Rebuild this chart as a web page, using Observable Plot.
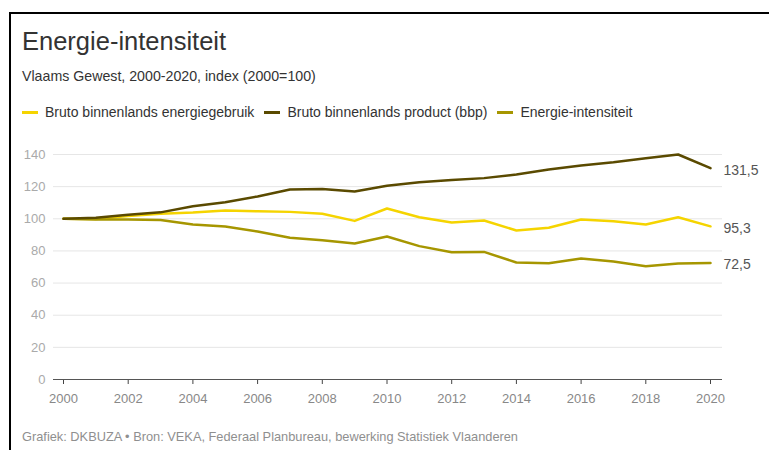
<!DOCTYPE html>
<html>
<head>
<meta charset="utf-8">
<script src="https://cdn.jsdelivr.net/npm/d3@7"></script>
<script src="https://cdn.jsdelivr.net/npm/@observablehq/plot@0.6"></script>
<style>
  html, body { margin: 0; padding: 0; background: #fff; }
  body { width: 769px; height: 450px; overflow: hidden; position: relative; font-family: "Liberation Sans", Arial, sans-serif; }
  .frame { position: absolute; left: 9px; top: 12px; width: 820px; height: 520px; border: 2px solid #000; box-sizing: border-box; }
  .title { position: absolute; left: 22px; top: 29px; font-size: 25.5px; line-height: 25.5px; color: #333; white-space: nowrap; }
  .subtitle { position: absolute; left: 22px; top: 69px; font-size: 14.2px; line-height: 14px; color: #333; white-space: nowrap; }
  .legend { position: absolute; left: 22px; top: 105px; font-size: 14px; line-height: 14px; color: #333; display: flex; align-items: center; white-space: nowrap; }
  .legend .item { display: flex; align-items: center; margin-right: 10px; }
  .legend .sw { width: 16px; height: 3px; margin-right: 7px; }
  .caption { position: absolute; left: 22px; top: 430px; font-size: 12.8px; line-height: 13px; color: #8f8f8f; white-space: nowrap; }
  #chart { position: absolute; left: 0; top: 140px; }
</style>
</head>
<body>
<div class="frame"></div>
<div class="title">Energie-intensiteit</div>
<div class="subtitle">Vlaams Gewest, 2000-2020, index (2000=100)</div>
<div class="legend" id="legend"></div>
<div id="chart"></div>
<div class="caption">Grafiek: DKBUZA • Bron: VEKA, Federaal Planbureau, bewerking Statistiek Vlaanderen</div>
<script>
const years = [2000,2001,2002,2003,2004,2005,2006,2007,2008,2009,2010,2011,2012,2013,2014,2015,2016,2017,2018,2019,2020];
const energiegebruik = [100,99.8,101.8,103.1,103.9,105.2,104.7,104.3,103.1,98.7,106.4,101,97.7,98.9,92.7,94.4,99.6,98.5,96.4,101,95.3];
const bbp = [100,100.6,102.5,104,107.8,110.3,113.9,118.2,118.6,117,120.5,122.8,124.2,125.3,127.6,130.7,133.2,135.2,137.7,140,131.5];
const intensiteit = [100,99.6,99.5,99.3,96.4,95.2,92.1,88.2,86.7,84.6,89,83,79.2,79.4,72.8,72.4,75.3,73.4,70.5,72.2,72.5];
const seriesNames = ["Bruto binnenlands energiegebruik","Bruto binnenlands product (bbp)","Energie-intensiteit"];
const seriesColors = ["#f5d400","#5a4a00","#a69600"];
const yTicks = [0,20,40,60,80,100,120,140];
const xTicks = [2000,2002,2004,2006,2008,2010,2012,2014,2016,2018,2020];

const seriesValues = [energiegebruik, bbp, intensiteit];
const rows = [];
seriesNames.forEach((name, i) => years.forEach((yr, j) => rows.push({series: name, year: yr, value: seriesValues[i][j]})));
const last = rows.filter(d => d.year === years[years.length - 1]);
const fmt = v => d3.format(".1f")(v).replace(".", ",");

const legend = document.getElementById("legend");
seriesNames.forEach((n, i) => {
  const it = document.createElement("div");
  it.className = "item";
  it.innerHTML = `<span class="sw" style="background:${seriesColors[i]}"></span><span>${n}</span>`;
  legend.appendChild(it);
});

const chart = Plot.plot({
  width: 769,
  height: 275,
  marginLeft: 53,
  marginRight: 47,
  marginTop: 14,
  marginBottom: 36,
  style: {fontFamily: '"Liberation Sans", Arial, sans-serif', fontSize: "13px", background: "transparent", overflow: "visible"},
  x: {domain: [2000, 2020], insetLeft: 10, insetRight: 12},
  y: {domain: [0, 140]},
  color: {domain: seriesNames, range: seriesColors},
  marks: [
    Plot.ruleY(yTicks.filter(d => d > 0), {stroke: "#e6e6e6", strokeWidth: 1}),
    Plot.axisY({ticks: yTicks, tickSize: 0, tickPadding: 8, color: "#aaa", label: null, fontSize: 13}),
    Plot.axisX({ticks: xTicks, tickSize: 5, color: "#444", tickFormat: () => "", label: null}),
    Plot.axisX({ticks: xTicks, tickSize: 0, tickPadding: 14, color: "#888", tickFormat: d => String(d), label: null, fontSize: 13}),
    Plot.ruleY([0], {stroke: "#555", strokeWidth: 1}),
    Plot.line(rows.filter(d => d.series === seriesNames[0]), {x: "year", y: "value", stroke: "series", strokeWidth: 2.5}),
    Plot.line(rows.filter(d => d.series === seriesNames[2]), {x: "year", y: "value", stroke: "series", strokeWidth: 2.5}),
    Plot.line(rows.filter(d => d.series === seriesNames[1]), {x: "year", y: "value", stroke: "series", strokeWidth: 2.5}),
    Plot.text(last, {x: "year", y: "value", text: d => fmt(d.value), textAnchor: "start", dx: 13, dy: 2, fill: "#555", fontSize: 14})
  ]
});
document.getElementById("chart").appendChild(chart);
</script>
</body>
</html>
